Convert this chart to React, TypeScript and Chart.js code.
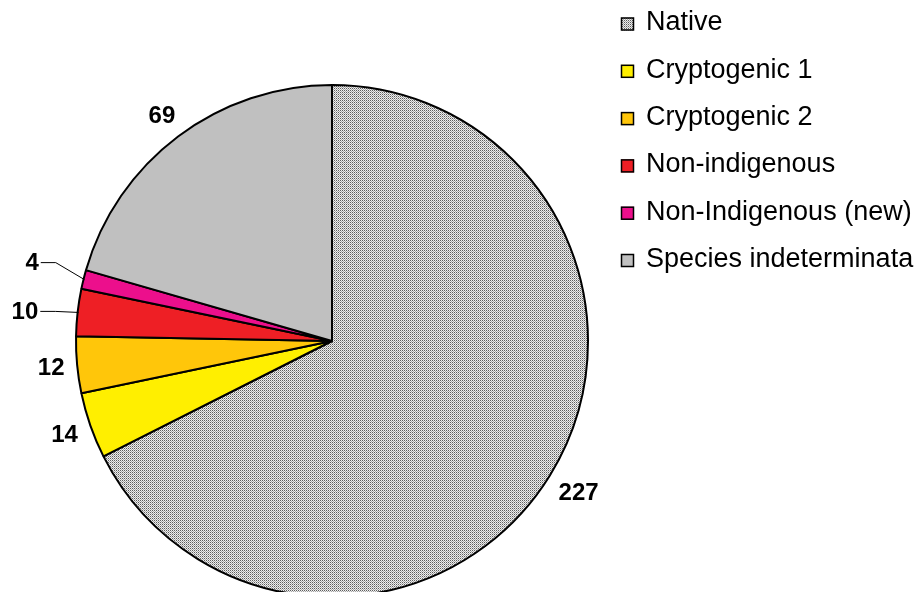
import React, { useEffect, useRef } from "react";
import { Chart, registerables } from "chart.js";

Chart.register(...registerables);

const categories = [
  "Native",
  "Cryptogenic 1",
  "Cryptogenic 2",
  "Non-indigenous",
  "Non-Indigenous (new)",
  "Species indeterminata",
];
const counts = [227, 14, 12, 10, 4, 69];
const sliceColors = ["pattern", "#ffef00", "#ffc60a", "#ee1f25", "#ec0f8c", "#c0c0c0"];
const leaderLabels = [false, false, false, true, true, false];

function makePattern(): CanvasPattern | string {
  const c = document.createElement("canvas");
  c.width = 2;
  c.height = 2;
  const x = c.getContext("2d");
  if (!x) return "#c0c0c0";
  x.fillStyle = "#eeeeee";
  x.fillRect(0, 0, 2, 2);
  x.fillStyle = "#5e5e5e";
  x.fillRect(0, 0, 1, 1);
  x.fillStyle = "#a8a8a8";
  x.fillRect(1, 1, 1, 1);
  const p = x.createPattern(c, "repeat");
  return p || "#c0c0c0";
}

const FONT = "Arial, 'Liberation Sans', sans-serif";

export default function App() {
  const ref = useRef<HTMLCanvasElement | null>(null);
  useEffect(() => {
    if (!ref.current) return;
    const pattern = makePattern();
    const fills = sliceColors.map((c) => (c === "pattern" ? pattern : c));

    const legendPlugin = {
      id: "customLegend",
      afterDraw(chart: any) {
        const ctx = chart.ctx as CanvasRenderingContext2D;
        ctx.save();
        const x0 = 621;
        const y0 = 24;
        const step = 47.3;
        const box = 13;
        ctx.font = `27px ${FONT}`;
        ctx.textBaseline = "middle";
        ctx.textAlign = "left";
        categories.forEach((lab, i) => {
          const cy = y0 + i * step;
          ctx.fillStyle = fills[i] as any;
          ctx.fillRect(x0, cy - box / 2, box, box);
          ctx.strokeStyle = "#000";
          ctx.lineWidth = 1.5;
          ctx.strokeRect(x0 + 0.5, cy - box / 2 + 0.5, box - 1, box - 1);
          ctx.fillStyle = "#000";
          ctx.fillText(lab, 646, cy - 1);
        });
        ctx.restore();
      },
    };

    const labelPlugin = {
      id: "sliceLabels",
      afterDatasetsDraw(chart: any) {
        const ctx = chart.ctx as CanvasRenderingContext2D;
        const meta = chart.getDatasetMeta(0);
        ctx.save();
        ctx.font = `bold 24px ${FONT}`;
        ctx.textAlign = "center";
        ctx.textBaseline = "middle";
        ctx.fillStyle = "#000";
        meta.data.forEach((arc: any, i: number) => {
          const p = arc.getProps(["x", "y", "startAngle", "endAngle", "outerRadius"], true);
          const mid = (p.startAngle + p.endAngle) / 2;
          const dx = Math.cos(mid);
          const dy = Math.sin(mid);
          const txt = String(counts[i]);
          const w = ctx.measureText(txt).width;
          const h = 17;
          if (leaderLabels[i]) {
            const lr = p.outerRadius + 53;
            const lx = p.x + dx * lr;
            const ly = p.y + dy * lr + (i === 3 ? 5 : -4);
            ctx.fillText(txt, lx, ly + 1);
            const ex = p.x + dx * (p.outerRadius - 1);
            const ey = p.y + dy * (p.outerRadius - 1);
            const sx = lx + w / 2 + 2;
            ctx.strokeStyle = "#000";
            ctx.lineWidth = 1;
            ctx.beginPath();
            ctx.moveTo(sx, ly);
            ctx.lineTo(sx + 15, ly);
            ctx.lineTo(ex, ey);
            ctx.stroke();
          } else {
            const off = 12 + Math.abs(dx) * (w / 2) + Math.abs(dy) * (h / 2);
            const lr = p.outerRadius + off;
            ctx.fillText(txt, p.x + dx * lr, p.y + dy * lr + 1);
          }
        });
        ctx.restore();
      },
    };

    const chart = new Chart(ref.current, {
      type: "pie",
      data: {
        labels: categories,
        datasets: [
          {
            data: counts,
            backgroundColor: fills as any,
            borderColor: "#000000",
            borderWidth: 2,
          },
        ],
      },
      options: {
        animation: false,
        responsive: false,
        maintainAspectRatio: false,
        layout: { padding: { left: 75, top: 84, right: 328, bottom: 102 } },
        plugins: {
          legend: { display: false },
          tooltip: { enabled: false },
        },
      },
      plugins: [legendPlugin, labelPlugin],
    });
    return () => chart.destroy();
  }, []);

  return (
    <div
      style={{
        position: "fixed",
        left: 0,
        top: 0,
        width: 917,
        height: 592,
        overflow: "hidden",
        background: "#fff",
      }}
    >
      <canvas ref={ref} width={917} height={700} style={{ width: 917, height: 700, display: "block" }} />
    </div>
  );
}
